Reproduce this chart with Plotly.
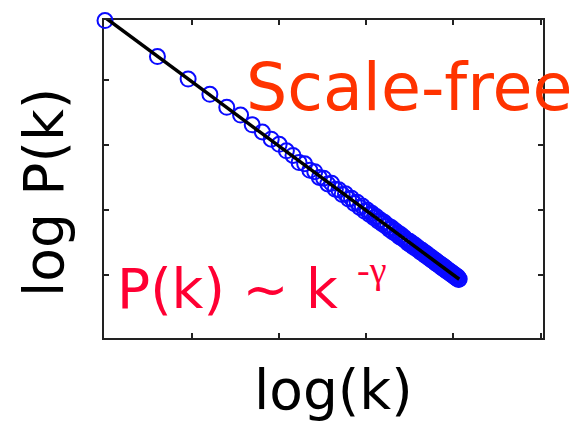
import numpy as np
import plotly.graph_objects as go

# ---------------- data ----------------
degree_k = list(range(1, 109))
log_Pk = [
    -0.085, -0.640, -0.985, -1.220, -1.420, -1.540, -1.690, -1.800, -1.910, -1.990,
    -2.090, -2.160, -2.270, -2.290, -2.390, -2.410, -2.500, -2.510, -2.600, -2.590,
    -2.680, -2.690, -2.760, -2.750, -2.830, -2.820, -2.900, -2.880, -2.960, -2.940,
    -3.020, -3.000, -3.070, -3.050, -3.120, -3.100, -3.170, -3.150, -3.210, -3.190,
    -3.250, -3.240, -3.300, -3.270, -3.340, -3.310, -3.370, -3.350, -3.410, -3.380,
    -3.440, -3.420, -3.470, -3.460, -3.510, -3.480, -3.540, -3.510, -3.570, -3.540,
    -3.590, -3.570, -3.620, -3.600, -3.650, -3.620, -3.670, -3.650, -3.700, -3.670,
    -3.720, -3.700, -3.745, -3.720, -3.770, -3.745, -3.790, -3.765, -3.815, -3.790,
    -3.835, -3.810, -3.855, -3.830, -3.875, -3.850, -3.895, -3.870, -3.915, -3.890,
    -3.935, -3.910, -3.950, -3.930, -3.970, -3.945, -3.985, -3.965, -4.005, -3.980,
    -4.020, -4.000, -4.040, -4.015, -4.055, -4.030, -4.070, -4.060,
]
x_tick_values = [0, 0.5, 1.0, 1.5, 2.0, 2.5]
y_tick_values = [-5, -4, -3, -2, -1, 0]

title_text = "Scale-free"
law_text = "P(k) ~ k"
law_exp = "-γ"
x_label = "log(k)"
y_label = "log P(k)"

# ---------------- derived ----------------
log_k = np.log10(np.array(degree_k, dtype=float))
log_p = np.array(log_Pk)
slope, intercept = np.polyfit(log_k, log_p, 1)
fit_x = np.array([log_k.min(), log_k.max()])
fit_y = intercept + slope * fit_x

# ---------------- layout geometry ----------------
W, H = 575, 424
L, R, T, B = 104, 543, 20, 338
X_PER_PX = 1 / 174.2
Y_PER_PX = 1 / 65.0


def px(xp):
    return (xp - L) / (R - L)


def py(yp):
    return (B - yp) / (B - T)


fig = go.Figure()
fig.add_trace(go.Scatter(
    x=log_k, y=log_p, mode="markers",
    marker=dict(symbol="circle-open", size=15, color="#0a0aff",
                line=dict(width=2, color="#0a0aff")),
    cliponaxis=False, showlegend=False, hoverinfo="skip"))
fig.add_trace(go.Scatter(
    x=fit_x, y=fit_y, mode="lines",
    line=dict(color="black", width=3.5),
    cliponaxis=False, showlegend=False, hoverinfo="skip"))

axis_common = dict(
    showgrid=False, zeroline=False, showline=True, linewidth=2,
    linecolor="#222222", mirror="ticks", ticks="inside", ticklen=5,
    tickwidth=1.5, tickcolor="#222222", showticklabels=False,
    layer="below traces",
)

x0 = -1.0 * X_PER_PX
fig.update_xaxes(range=[x0, x0 + (R - L) * X_PER_PX], tickvals=x_tick_values, **axis_common)
fig.update_yaxes(range=[(340 - B) * Y_PER_PX - 5, (340 - T) * Y_PER_PX - 5],
                 tickvals=y_tick_values, **axis_common)

ann = []
ann.append(dict(text=title_text, x=px(244), y=py(88), xanchor="left", yanchor="middle",
                font=dict(family="DejaVu Sans", size=65, color="#ff3300")))
ann.append(dict(text=law_text, x=px(115), y=py(289), xanchor="left", yanchor="middle",
                font=dict(family="DejaVu Sans", size=55, color="#ff0033")))
ann.append(dict(text=law_exp, x=px(355), y=py(270), xanchor="left", yanchor="middle",
                font=dict(family="Liberation Serif", size=38, color="#ff0033")))
ann.append(dict(text=x_label, x=px(333), y=py(390), xanchor="center", yanchor="middle",
                font=dict(family="DejaVu Sans", size=55, color="black")))
ann.append(dict(text=y_label, x=px(44), y=py(193), xanchor="center", yanchor="middle",
                textangle=-90,
                font=dict(family="DejaVu Sans", size=55, color="black")))
for a in ann:
    a.update(xref="paper", yref="paper", showarrow=False)

fig.update_layout(
    width=W, height=H,
    margin=dict(l=L, r=W - R, t=T, b=H - B, pad=0),
    paper_bgcolor="white", plot_bgcolor="white",
    annotations=ann,
)

fig.write_html("out.html")
